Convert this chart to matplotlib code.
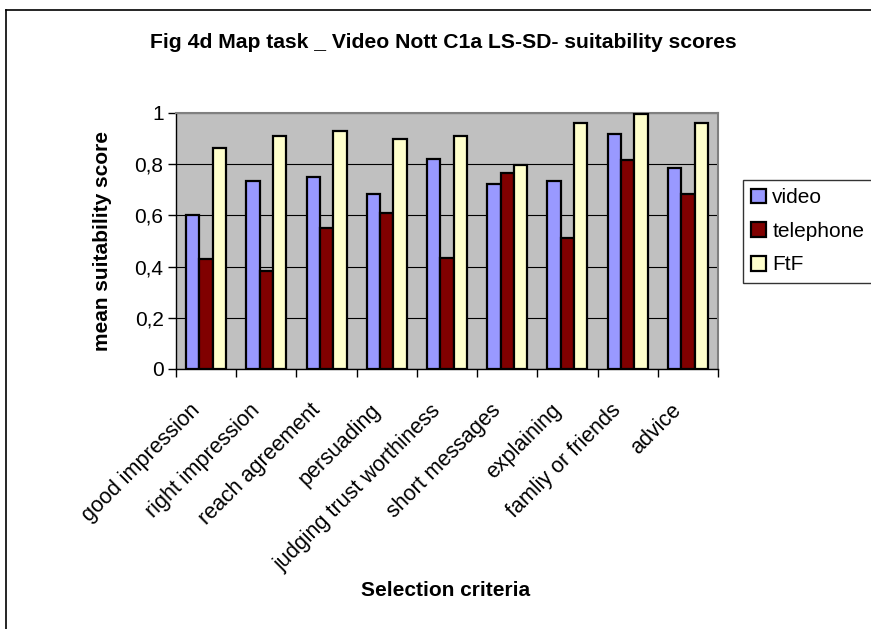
import matplotlib
matplotlib.use("Agg")
import matplotlib.pyplot as plt
import numpy as np
from matplotlib.lines import Line2D
from matplotlib.transforms import ScaledTranslation

plt.rcParams['font.family'] = ['Liberation Sans', 'DejaVu Sans']

categories = ["good impression", "right impression", "reach agreement", "persuading",
              "judging trust worthiness", "short messages", "explaining",
              "famliy or friends", "advice"]
video = [0.60, 0.736, 0.75, 0.682, 0.821, 0.721, 0.733, 0.918, 0.785]
telephone = [0.431, 0.384, 0.551, 0.611, 0.434, 0.767, 0.513, 0.818, 0.685]
ftf = [0.862, 0.910, 0.931, 0.897, 0.910, 0.798, 0.962, 0.997, 0.962]
series_names = ["video", "telephone", "FtF"]
colors = ["#9999FF", "#800000", "#FFFFCC"]
yticks = [0, 0.2, 0.4, 0.6, 0.8, 1.0]
ytick_labels = ["0", "0,2", "0,4", "0,6", "0,8", "1"]

fig = plt.figure(figsize=(8.71, 6.29), dpi=100)
ax = fig.add_axes([176/871, 1-369/629, (718-176)/871, (369-113)/629])
ax.set_facecolor("#C0C0C0")

x = np.arange(len(categories))
w = 0.222
for i, (vals, c, name) in enumerate(zip([video, telephone, ftf], colors, series_names)):
    ax.bar(x + (i-1)*w, vals, width=w, color=c, edgecolor="black", linewidth=1.6,
           label=name, zorder=3)

ax.set_xlim(-0.5, len(categories)-0.5)
ax.set_ylim(0, 1)
ax.set_yticks(yticks)
ax.set_yticklabels(ytick_labels, fontsize=15)
ax.yaxis.grid(True, color="black", linewidth=0.8, zorder=1)
ax.set_axisbelow(True)
ax.set_xticks(np.arange(len(categories)+1) - 0.5)
ax.set_xticklabels([])
ax.tick_params(axis="x", which="major", length=6, direction="out", width=1)
ax.tick_params(axis="y", length=6, direction="out", width=1, pad=3)

# category labels, rotated 45 degrees, hanging below the axis
offset = ScaledTranslation(-17/100, -31/100, fig.dpi_scale_trans)
lab_tr = ax.get_xaxis_transform() + offset
for xi, cat in zip(x, categories):
    ax.text(xi, 0, cat, transform=lab_tr, rotation=45, ha="right", va="top",
            rotation_mode="anchor", fontsize=15.5, clip_on=False)

for s in ["top", "right"]:
    ax.spines[s].set_color("#808080")
    ax.spines[s].set_linewidth(1.5)
for s in ["left", "bottom"]:
    ax.spines[s].set_color("black")
    ax.spines[s].set_linewidth(1)

ax.set_ylabel("mean suitability score", fontsize=15, fontweight="bold")
ax.yaxis.set_label_coords((112-176)/542, 0.5)
fig.text(446/871, 1-590/629, "Selection criteria", ha="center", va="center",
         fontsize=15, fontweight="bold")
fig.text(443/871, 1-42/629, "Fig 4d Map task _ Video Nott C1a LS-SD- suitability scores",
         ha="center", va="center", fontsize=15.2, fontweight="bold")

leg = ax.legend(loc="upper left", bbox_to_anchor=(743/871, 1-280/629, 140/871, 100/629),
                bbox_transform=fig.transFigure, mode="expand", fontsize=15,
                frameon=True, fancybox=False, edgecolor="black", borderaxespad=0,
                handlelength=0.7, handleheight=0.7, handletextpad=0.3,
                labelspacing=0.7, borderpad=0.4)
leg.get_frame().set_linewidth(1)

# outer frame lines (top and left)
fig.add_artist(Line2D([6/871, 1], [1-9.5/629, 1-9.5/629], color="black", linewidth=1.2,
                      transform=fig.transFigure))
fig.add_artist(Line2D([6/871, 6/871], [0, 1-9.5/629], color="black", linewidth=1.2,
                      transform=fig.transFigure))

fig.savefig("out.png", dpi=100)
